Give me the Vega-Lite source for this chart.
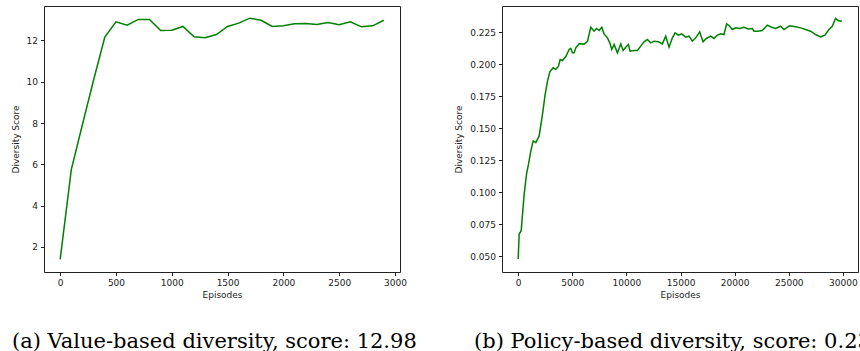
{
  "$schema": "https://vega.github.io/schema/vega-lite/v6.json",
  "background": "white",
  "padding": {"left": 10, "top": 5, "right": 0, "bottom": 0},
  "bounds": "flush",
  "spacing": 102,
  "datasets": {
    "value": [
      {"episode": 0, "score": 1.4}, {"episode": 100, "score": 5.76}, {"episode": 200, "score": 7.94},
      {"episode": 300, "score": 10.1}, {"episode": 400, "score": 12.16}, {"episode": 500, "score": 12.9},
      {"episode": 600, "score": 12.74}, {"episode": 700, "score": 13.02}, {"episode": 800, "score": 13.02},
      {"episode": 900, "score": 12.48}, {"episode": 1000, "score": 12.5}, {"episode": 1100, "score": 12.68},
      {"episode": 1200, "score": 12.18}, {"episode": 1300, "score": 12.13}, {"episode": 1400, "score": 12.29},
      {"episode": 1500, "score": 12.68}, {"episode": 1600, "score": 12.84}, {"episode": 1700, "score": 13.08},
      {"episode": 1800, "score": 12.98}, {"episode": 1900, "score": 12.68}, {"episode": 2000, "score": 12.71},
      {"episode": 2100, "score": 12.81}, {"episode": 2200, "score": 12.82}, {"episode": 2300, "score": 12.77},
      {"episode": 2400, "score": 12.87}, {"episode": 2500, "score": 12.76}, {"episode": 2600, "score": 12.9},
      {"episode": 2700, "score": 12.66}, {"episode": 2800, "score": 12.71}, {"episode": 2900, "score": 12.98}
    ],
    "policy": [
      {"episode": 0, "score": 0.0477}, {"episode": 92, "score": 0.0672}, {"episode": 277, "score": 0.0698},
      {"episode": 400, "score": 0.0828}, {"episode": 554, "score": 0.0984}, {"episode": 770, "score": 0.114},
      {"episode": 954, "score": 0.1218}, {"episode": 1170, "score": 0.1322}, {"episode": 1385, "score": 0.140},
      {"episode": 1630, "score": 0.1387}, {"episode": 1938, "score": 0.1439}, {"episode": 2246, "score": 0.1608},
      {"episode": 2492, "score": 0.1764}, {"episode": 2708, "score": 0.1868}, {"episode": 2923, "score": 0.1941},
      {"episode": 3231, "score": 0.1972}, {"episode": 3477, "score": 0.196}, {"episode": 3723, "score": 0.1985},
      {"episode": 3877, "score": 0.2037}, {"episode": 4092, "score": 0.2029}, {"episode": 4400, "score": 0.206},
      {"episode": 4708, "score": 0.2115}, {"episode": 4862, "score": 0.2123}, {"episode": 5015, "score": 0.2089},
      {"episode": 5170, "score": 0.2089}, {"episode": 5323, "score": 0.2128}, {"episode": 5631, "score": 0.216},
      {"episode": 6092, "score": 0.2157}, {"episode": 6400, "score": 0.2178}, {"episode": 6708, "score": 0.2289},
      {"episode": 7015, "score": 0.2258}, {"episode": 7231, "score": 0.2279}, {"episode": 7477, "score": 0.2263},
      {"episode": 7723, "score": 0.2289}, {"episode": 7938, "score": 0.2237}, {"episode": 8246, "score": 0.2206},
      {"episode": 8461, "score": 0.2167}, {"episode": 8646, "score": 0.2115}, {"episode": 8862, "score": 0.2154},
      {"episode": 9169, "score": 0.2089}, {"episode": 9477, "score": 0.2159}, {"episode": 9692, "score": 0.2107},
      {"episode": 9939, "score": 0.2133}, {"episode": 10185, "score": 0.2154}, {"episode": 10338, "score": 0.2102},
      {"episode": 10708, "score": 0.2107}, {"episode": 11015, "score": 0.2107}, {"episode": 11323, "score": 0.2141},
      {"episode": 11631, "score": 0.2175}, {"episode": 11938, "score": 0.2193}, {"episode": 12246, "score": 0.2167},
      {"episode": 12554, "score": 0.218}, {"episode": 12954, "score": 0.2175}, {"episode": 13323, "score": 0.2159},
      {"episode": 13631, "score": 0.2219}, {"episode": 13938, "score": 0.2133}, {"episode": 14246, "score": 0.2206},
      {"episode": 14492, "score": 0.2245}, {"episode": 14800, "score": 0.2227}, {"episode": 15108, "score": 0.2237},
      {"episode": 15477, "score": 0.2211}, {"episode": 15785, "score": 0.2219}, {"episode": 16092, "score": 0.218},
      {"episode": 16400, "score": 0.2206}, {"episode": 16769, "score": 0.2253}, {"episode": 17077, "score": 0.2175},
      {"episode": 17385, "score": 0.2201}, {"episode": 17785, "score": 0.2219}, {"episode": 18092, "score": 0.2201},
      {"episode": 18400, "score": 0.2227}, {"episode": 18708, "score": 0.2237}, {"episode": 19015, "score": 0.2232},
      {"episode": 19262, "score": 0.2315}, {"episode": 19538, "score": 0.2297}, {"episode": 19785, "score": 0.2271},
      {"episode": 20092, "score": 0.2284}, {"episode": 20462, "score": 0.2279}, {"episode": 20862, "score": 0.2289},
      {"episode": 21262, "score": 0.2275}, {"episode": 21631, "score": 0.2279}, {"episode": 21785, "score": 0.2258},
      {"episode": 22092, "score": 0.2258}, {"episode": 22554, "score": 0.2263}, {"episode": 23015, "score": 0.2305},
      {"episode": 23415, "score": 0.2289}, {"episode": 23785, "score": 0.2279}, {"episode": 24246, "score": 0.2297},
      {"episode": 24554, "score": 0.2271}, {"episode": 25077, "score": 0.23}, {"episode": 25631, "score": 0.2292},
      {"episode": 26092, "score": 0.2284}, {"episode": 26554, "score": 0.2271}, {"episode": 27015, "score": 0.2258},
      {"episode": 27477, "score": 0.2232}, {"episode": 27938, "score": 0.2214}, {"episode": 28338, "score": 0.2227},
      {"episode": 28708, "score": 0.2271}, {"episode": 29015, "score": 0.2297}, {"episode": 29323, "score": 0.2357},
      {"episode": 29569, "score": 0.2341}, {"episode": 29785, "score": 0.2336}, {"episode": 29900, "score": 0.234}
    ]
  },
  "config": {
    "view": {"stroke": "#222", "strokeWidth": 1},
    "axis": {
      "domain": false, "grid": false, "tickColor": "#222", "tickSize": 3.5, "tickWidth": 1,
      "labelFont": "DejaVu Sans", "labelFontSize": 9, "labelColor": "#222", "labelPadding": 3,
      "titleFont": "DejaVu Sans", "titleFontSize": 9, "titleFontWeight": "normal", "titleColor": "#222"
    },
    "title": {"font": "DejaVu Serif", "fontSize": 21, "fontWeight": "normal", "color": "#000", "orient": "bottom", "anchor": "start", "frame": "group"}
  },
  "hconcat": [
    {
      "width": 356, "height": 266,
      "data": {"name": "value"},
      "title": {"text": "(a) Value-based diversity, score: 12.98", "dx": -32, "offset": 31},
      "mark": {"type": "line", "color": "#008000", "strokeWidth": 1.5},
      "encoding": {
        "x": {"field": "episode", "type": "quantitative",
              "scale": {"domain": [-145, 3045], "nice": false, "zero": false},
              "axis": {"values": [0, 500, 1000, 1500, 2000, 2500, 3000], "format": "d", "title": "Episodes", "titlePadding": 3}},
        "y": {"field": "score", "type": "quantitative",
              "scale": {"domain": [0.785, 13.67], "nice": false, "zero": false},
              "axis": {"values": [2, 4, 6, 8, 10, 12], "format": "d", "title": "Diversity Score", "titlePadding": 6}}
      }
    },
    {
      "width": 356, "height": 266,
      "data": {"name": "policy"},
      "title": {"text": "(b) Policy-based diversity, score: 0.234", "dx": -28, "offset": 31},
      "mark": {"type": "line", "color": "#008000", "strokeWidth": 1.5},
      "encoding": {
        "x": {"field": "episode", "type": "quantitative",
              "scale": {"domain": [-1495, 31395], "nice": false, "zero": false},
              "axis": {"values": [0, 5000, 10000, 15000, 20000, 25000, 30000], "format": "d", "title": "Episodes", "titlePadding": 3}},
        "y": {"field": "score", "type": "quantitative",
              "scale": {"domain": [0.0375, 0.2455], "nice": false, "zero": false},
              "axis": {"values": [0.05, 0.075, 0.1, 0.125, 0.15, 0.175, 0.2, 0.225], "format": ".3f", "title": "Diversity Score", "titlePadding": 6}}
      }
    }
  ]
}
